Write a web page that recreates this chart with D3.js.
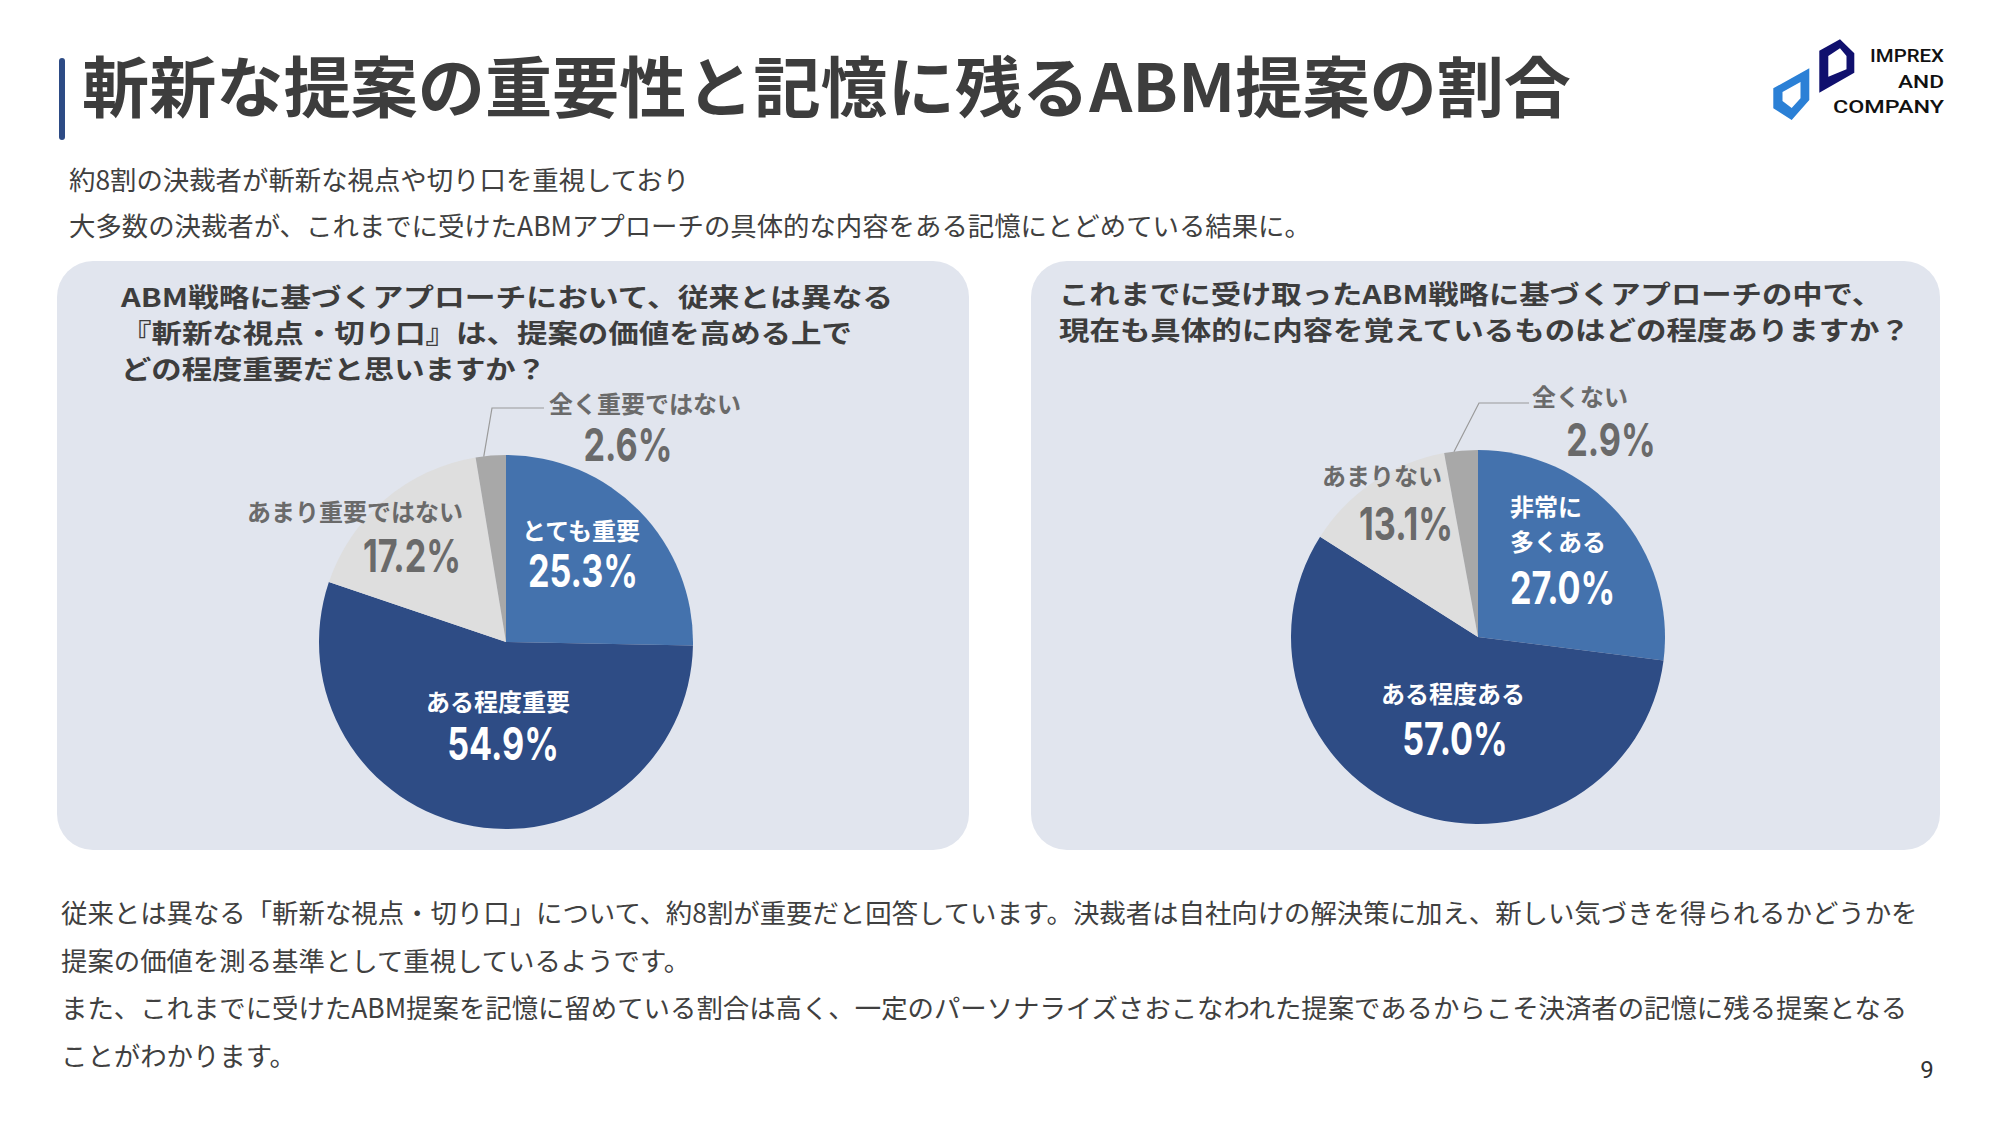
<!DOCTYPE html>
<html><head><meta charset="utf-8">
<script src="https://cdn.jsdelivr.net/npm/d3@7"></script>
<style>html,body{margin:0;padding:0;background:#fff;}svg{display:block;}</style>
</head><body>
<svg id="chart" width="1999" height="1126"></svg>
<script>
// ---------- data ----------
const titleText = "斬新な提案の重要性と記憶に残るABM提案の割合";
const subtitleLines = [
  "約8割の決裁者が斬新な視点や切り口を重視しており",
  "大多数の決裁者が、これまでに受けたABMアプローチの具体的な内容をある記憶にとどめている結果に。"
];
const bodyLines = [
  "従来とは異なる「斬新な視点・切り口」について、約8割が重要だと回答しています。決裁者は自社向けの解決策に加え、新しい気づきを得られるかどうかを",
  "提案の価値を測る基準として重視しているようです。",
  "また、これまでに受けたABM提案を記憶に留めている割合は高く、一定のパーソナライズさおこなわれた提案であるからこそ決済者の記憶に残る提案となる",
  "ことがわかります。"
];
const q1Lines = [
  "ABM戦略に基づくアプローチにおいて、従来とは異なる",
  "『斬新な視点・切り口』は、提案の価値を高める上で",
  "どの程度重要だと思いますか？"
];
const q2Lines = [
  "これまでに受け取ったABM戦略に基づくアプローチの中で、",
  "現在も具体的に内容を覚えているものはどの程度ありますか？"
];
const pie1Categories = ["とても重要", "ある程度重要", "あまり重要ではない", "全く重要ではない"];
const pie1Values = [25.3, 54.9, 17.2, 2.6];
const pie2Categories = ["非常に多くある", "ある程度ある", "あまりない", "全くない"];
const pie2LabelLines = [["非常に", "多くある"], ["ある程度ある"], ["あまりない"], ["全くない"]];
const pie2Values = [27.0, 57.0, 13.1, 2.9];
const pageNumber = "9";
const logoWords = ["IMPREX", "AND", "COMPANY"];

// ---------- styles ----------
const sliceColors = ["#4472ad", "#2e4c85", "#dedede", "#a8a8a8"];
const labelColors = ["#ffffff", "#ffffff", "#6a6a6a", "#6a6a6a"];
const JP = "'Noto Sans CJK JP','Noto Sans',sans-serif";
const NUM = "Inter,Roboto,'Noto Sans',sans-serif";
const panelFill = "#e1e5ee";
const textDark = "#3d3d3d";

const svg = d3.select("#chart");

// title
svg.append("rect").attr("x", 59).attr("y", 58).attr("width", 6).attr("height", 82)
  .attr("rx", 3).attr("fill", "#2d4b85");
svg.append("text").attr("x", 82).attr("y", 112).text(titleText)
  .attr("font-family", JP).attr("font-weight", 700).attr("font-size", 66)
  .attr("fill", textDark).attr("textLength", 1489).attr("lengthAdjust", "spacingAndGlyphs");

// subtitles
svg.selectAll("text.sub").data(subtitleLines).join("text").attr("class", "sub")
  .attr("x", 69).attr("y", (d, i) => 190 + i * 46).text(d => d)
  .attr("font-family", JP).attr("font-weight", 400).attr("font-size", 26.4).attr("fill", "#404040");

// logo
const lg = svg.append("g");
lg.append("path").attr("fill", "#10106e").attr("fill-rule", "evenodd")
  .attr("d", "M1819.3,92.7 L1819.3,50.7 L1840,39.3 L1854.3,53.3 L1854.3,72.7 Z M1828.3,76.7 L1828.3,56 L1840,48.3 L1846.5,56 L1846.5,69.3 Z");
lg.append("path").attr("fill", "#2b80d6").attr("fill-rule", "evenodd")
  .attr("d", "M1809.3,68.3 L1809.3,100 L1791.7,120 L1773.3,108.3 L1773.3,88.3 Z M1800.5,82 L1800.5,98.3 L1791.7,108 L1782.5,101 L1782.5,92 Z");
const logoWidths = [74, 46, 111];
lg.selectAll("text").data(logoWords).join("text")
  .attr("x", (d, i) => 1944 - logoWidths[i]).attr("y", (d, i) => 62 + i * 25.7)
  .attr("textLength", (d, i) => logoWidths[i]).attr("lengthAdjust", "spacingAndGlyphs")
  .attr("font-family", "Roboto,sans-serif").attr("font-weight", 500).attr("font-size", 19)
  .attr("fill", "#111").text(d => d);

// panels
const panels = [
  {x: 57, y: 261, w: 912, h: 589},
  {x: 1031, y: 261, w: 909, h: 589}
];
svg.selectAll("rect.panel").data(panels).join("rect").attr("class", "panel")
  .attr("x", d => d.x).attr("y", d => d.y).attr("width", d => d.w).attr("height", d => d.h)
  .attr("rx", 36).attr("fill", panelFill);

// questions
const q1Widths = [772, 731, 425];
svg.selectAll("text.q1").data(q1Lines).join("text").attr("class", "q1")
  .attr("x", 121).attr("y", (d, i) => 307 + i * 36).text(d => d)
  .attr("textLength", (d, i) => q1Widths[i]).attr("lengthAdjust", "spacingAndGlyphs")
  .attr("font-family", JP).attr("font-weight", 700).attr("font-size", 26).attr("fill", textDark);
const q2Widths = [823, 851];
svg.selectAll("text.q2").data(q2Lines).join("text").attr("class", "q2")
  .attr("x", 1059).attr("y", (d, i) => 304 + i * 36).text(d => d)
  .attr("textLength", (d, i) => q2Widths[i]).attr("lengthAdjust", "spacingAndGlyphs")
  .attr("font-family", JP).attr("font-weight", 700).attr("font-size", 26).attr("fill", textDark);

// ---------- pies ----------
const radius = 187;
const pieGen = d3.pie().sort(null).value(d => d.value);
const arcGen = d3.arc().innerRadius(0).outerRadius(radius);
const pctFmt = v => d3.format(".1f")(v) + "%";

function drawPie(cx, cy, cats, vals, labelLines, layout, leader) {
  const data = cats.map((c, i) => ({cat: c, value: vals[i], lines: labelLines[i], i}));
  const g = svg.append("g").attr("transform", `translate(${cx},${cy})`);
  const arcs = pieGen(data);
  g.selectAll("path.slice").data(arcs).join("path").attr("class", "slice")
    .attr("d", arcGen).attr("fill", d => sliceColors[d.data.i]);

  // leader for the smallest slice
  const sm = arcs[leader.index];
  const mid = (sm.startAngle + sm.endAngle) / 2;
  const sx = Math.sin(mid) * radius, sy = -Math.cos(mid) * radius;
  g.append("polyline").attr("fill", "none").attr("stroke", "#9a9a9a").attr("stroke-width", 1.2)
    .attr("points", [[sx - 7, sy + 1], [leader.ex, leader.ey], [leader.endX, leader.ey]].map(p => p.join(",")).join(" "));

  arcs.forEach(a => {
    const L = layout[a.data.i];
    const col = labelColors[a.data.i];
    a.data.lines.forEach((ln, k) => {
      g.append("text").attr("x", L.nx).attr("y", L.ny[k] + 8).attr("text-anchor", L.anchor)
        .attr("font-family", JP).attr("font-weight", 700).attr("font-size", 24)
        .attr("fill", col).text(ln);
    });
    g.append("text").attr("transform", `translate(${L.px},${L.py + 17}) scale(0.76,1)`)
      .attr("text-anchor", L.anchor)
      .attr("font-family", NUM).attr("font-weight", 700).attr("font-size", 45)
      .attr("fill", col).text(pctFmt(a.data.value));
  });
}

const pie1Layout = [
  {anchor: "middle", nx: 75, ny: [-110], px: 77, py: -72},
  {anchor: "middle", nx: -8, ny: [61], px: -3, py: 101},
  {anchor: "middle", nx: -151, ny: [-129], px: -94, py: -87},
  {anchor: "middle", nx: 139, ny: [-237], px: 122, py: -198}
];
const pie2Layout = [
  {anchor: "start", nx: 32, ny: [-129, -94], px: 32, py: -50},
  {anchor: "middle", nx: -25, ny: [58], px: -23, py: 101},
  {anchor: "middle", nx: -96, ny: [-160], px: -72, py: -114},
  {anchor: "middle", nx: 102, ny: [-239], px: 133, py: -198}
];
drawPie(506, 642, pie1Categories, pie1Values, pie1Categories.map(c => [c]), pie1Layout,
  {index: 3, ex: -14, ey: -234, endX: 38});
drawPie(1478, 637, pie2Categories, pie2Values, pie2LabelLines, pie2Layout,
  {index: 3, ex: 1, ey: -234, endX: 51});

// body text
svg.selectAll("text.body").data(bodyLines).join("text").attr("class", "body")
  .attr("x", 61).attr("y", (d, i) => 923 + i * 47.5).text(d => d)
  .attr("font-family", JP).attr("font-weight", 400).attr("font-size", 26.4).attr("fill", "#404040");

svg.append("text").attr("x", 1927).attr("y", 1078).attr("text-anchor", "middle")
  .attr("font-family", "Roboto,sans-serif").attr("font-size", 24).attr("fill", "#333").text(pageNumber);
</script>
</body></html>
